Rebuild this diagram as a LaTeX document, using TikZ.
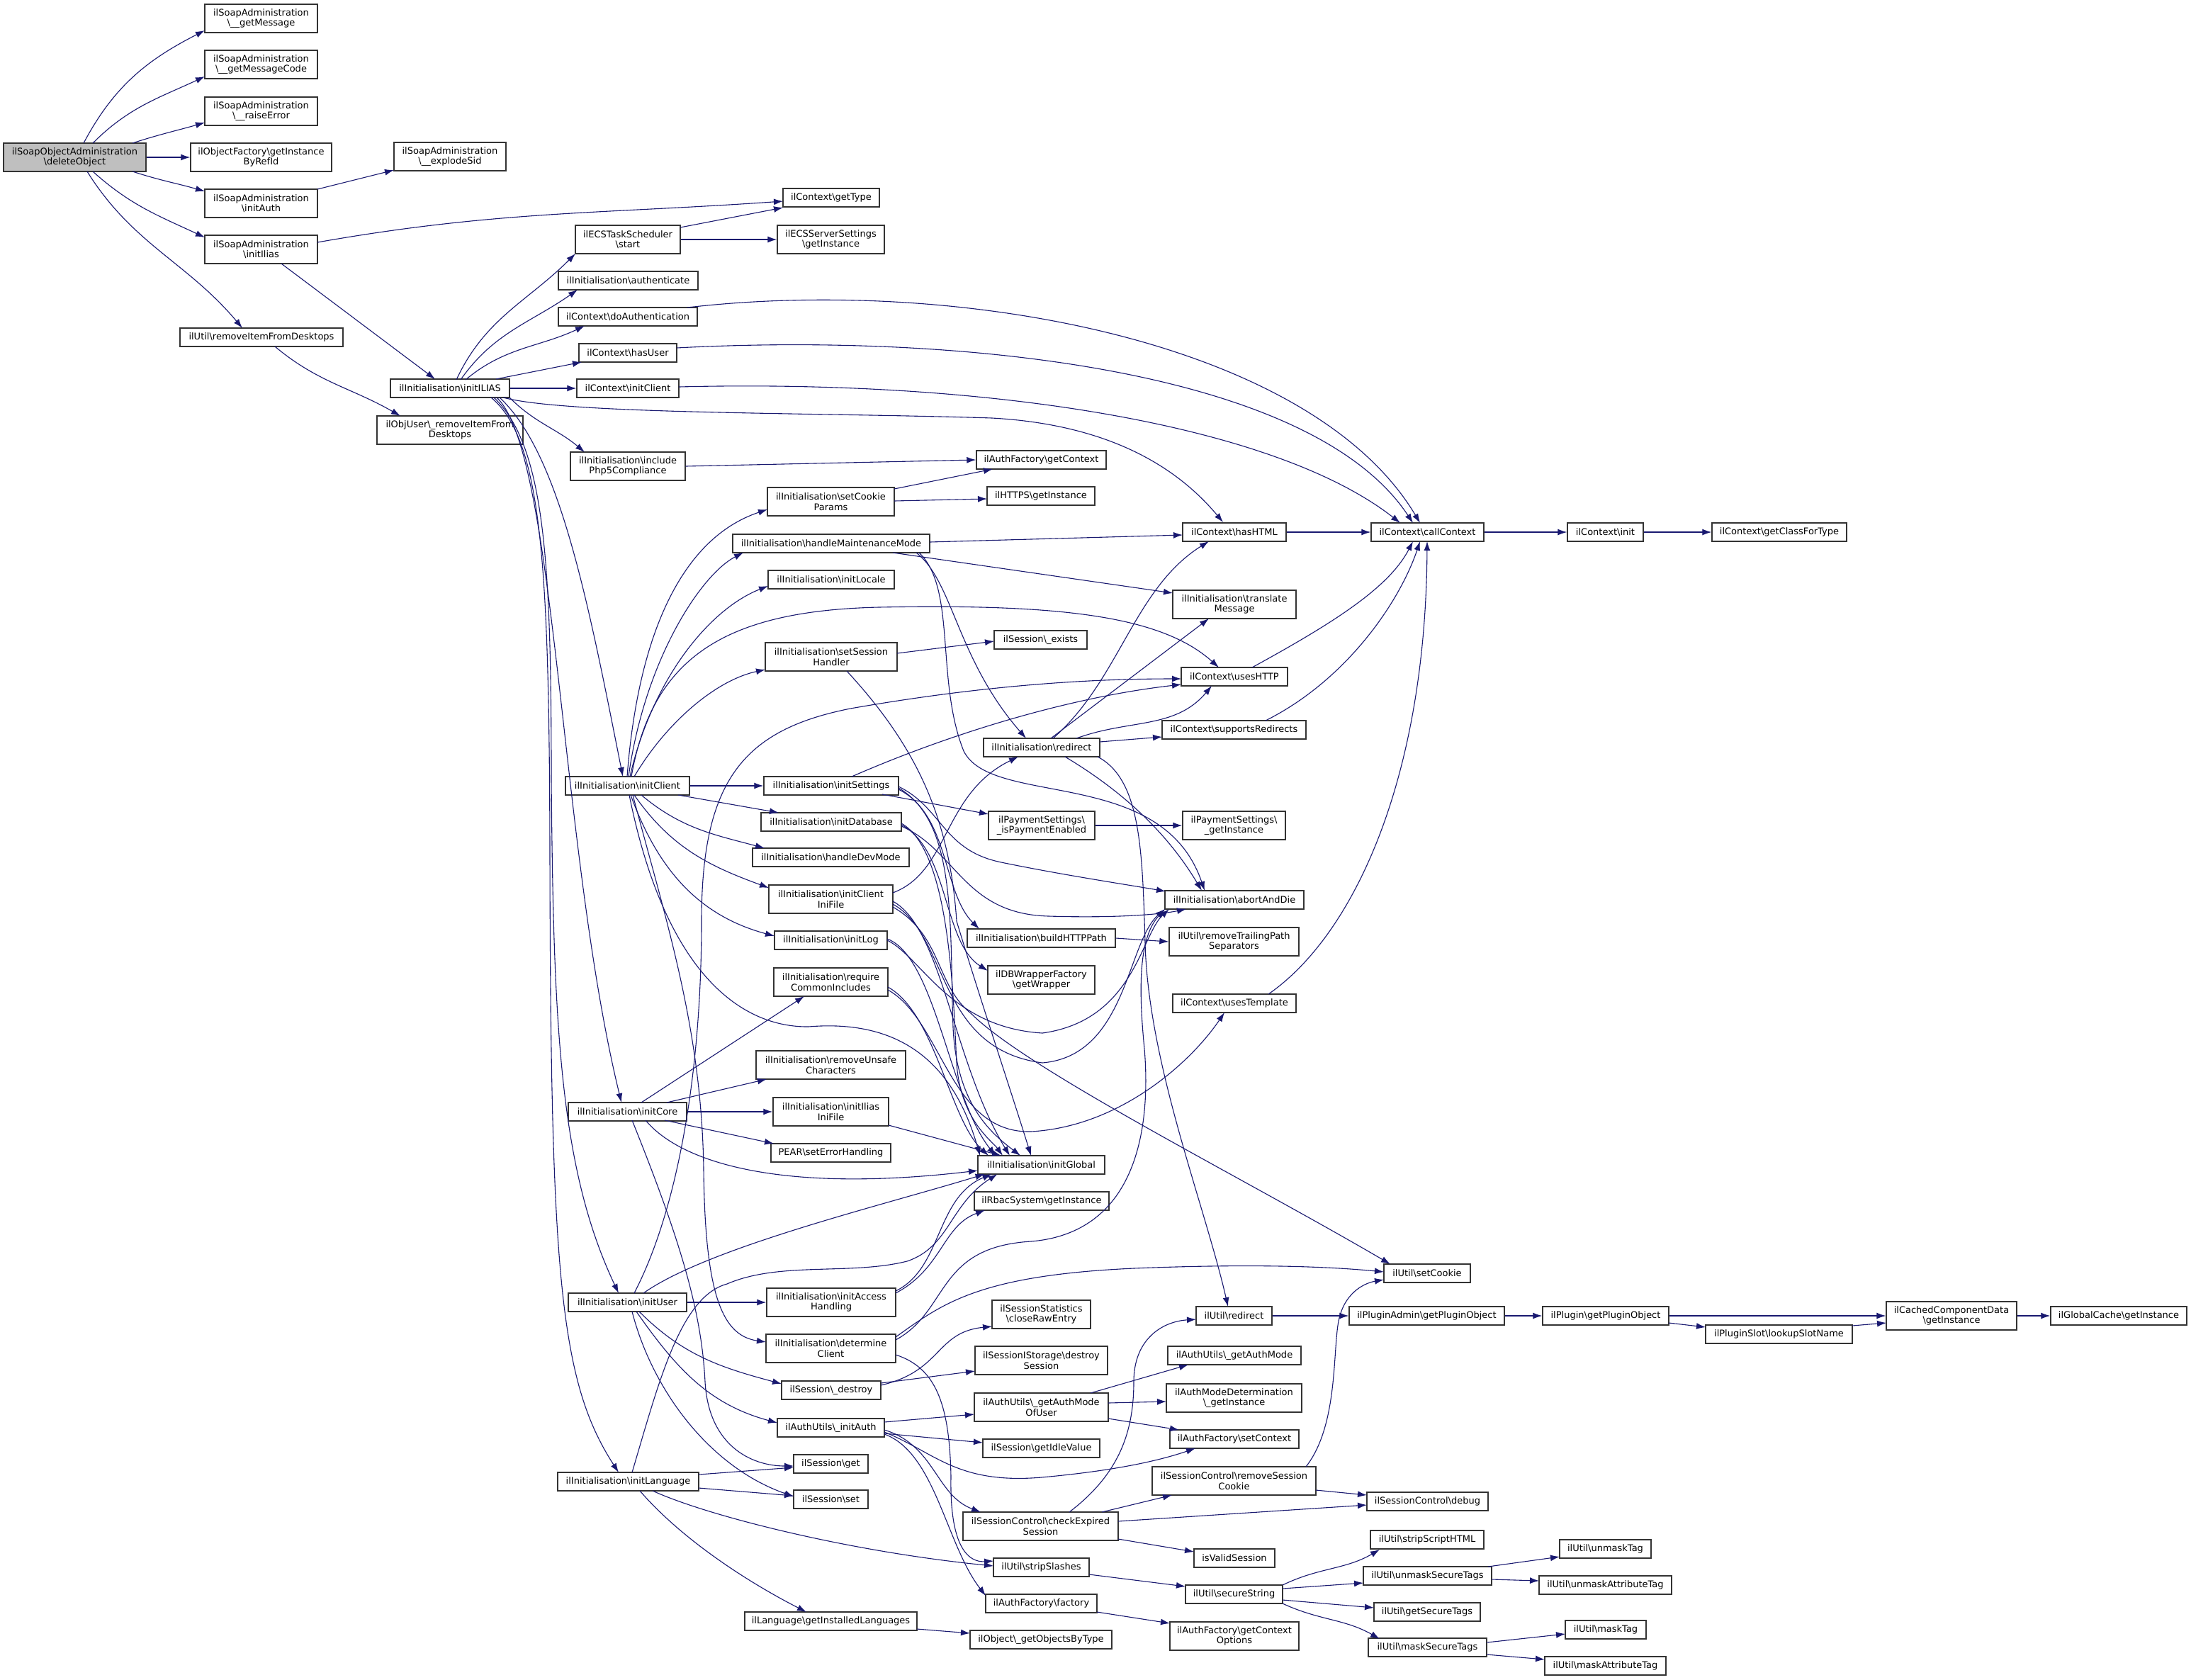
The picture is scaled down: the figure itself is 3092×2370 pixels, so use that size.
\documentclass[tikz,border=0pt]{standalone}
\usepackage{fontspec}
\setmainfont{DejaVu Sans}
\usetikzlibrary{arrows.meta}
\definecolor{edgec}{HTML}{191970}
\definecolor{rootc}{HTML}{BFBFBF}
\newcommand{\BS}{\textbackslash}
\begin{document}
\begin{tikzpicture}[x=1pt,y=-1pt,
  box/.style={draw=black!80, line width=1.4pt, fill=white, font=\fontsize{13}{14.5}\selectfont, align=center, inner xsep=4pt, inner ysep=2pt, minimum height=26pt, anchor=center},
  two/.style={minimum height=40pt},
  e/.style={draw=edgec, line width=1.1pt, -{Latex[length=13pt,width=9pt]}}]
\fill[white] (0,0) rectangle (3092,2370);
\useasboundingbox (0,0) rectangle (3092,2370);
% column 1
\node[box,two,fill=rootc,minimum width=201pt] (del) at (105.5,222) {ilSoapObjectAdministration\\\BS deleteObject};
\node[box,two,minimum width=159pt] (getMsg) at (368.5,26) {ilSoapAdministration\\\BS\_\_getMessage};
\node[box,two,minimum width=159pt] (getMsgCode) at (368.5,91) {ilSoapAdministration\\\BS\_\_getMessageCode};
\node[box,two,minimum width=159pt] (raiseErr) at (368.5,157) {ilSoapAdministration\\\BS\_\_raiseError};
\node[box,two,minimum width=199pt] (getInstRef) at (368.5,222) {ilObjectFactory\BS getInstance\\ByRefId};
\node[box,two,minimum width=158pt] (explodeSid) at (635,221) {ilSoapAdministration\\\BS\_\_explodeSid};
\node[box,two,minimum width=159pt] (soapInitAuth) at (368.5,287) {ilSoapAdministration\\\BS initAuth};
\node[box,two,minimum width=159pt] (soapInitIlias) at (368.5,352) {ilSoapAdministration\\\BS initIlias};
\node[box,minimum width=230pt] (removeItem) at (369,476) {ilUtil\BS removeItemFromDesktops};
\node[box,minimum width=168pt] (initILIAS) at (635,548) {ilInitialisation\BS initILIAS};
\node[box,two,minimum width=206pt] (objUserRemove) at (635,607) {ilObjUser\BS\_removeItemFrom\\Desktops};
\node[box,two,minimum width=148pt] (ecsStart) at (886,338) {ilECSTaskScheduler\\\BS start};
\node[box,minimum width=197pt] (authenticate) at (886.5,396) {ilInitialisation\BS authenticate};
\node[box,minimum width=196pt] (doAuth) at (886,447) {ilContext\BS doAuthentication};
\node[box,minimum width=138pt] (hasUser) at (886,498) {ilContext\BS hasUser};
\node[box,minimum width=144pt] (ctxInitClient) at (886,548) {ilContext\BS initClient};
\node[box,two,minimum width=162pt] (php5) at (886,658) {ilInitialisation\BS include\\Php5Compliance};
\node[box,minimum width=175pt] (initClient) at (885.5,1109) {ilInitialisation\BS initClient};
\node[box,minimum width=167pt] (initCore) at (885.5,1569) {ilInitialisation\BS initCore};
\node[box,minimum width=167pt] (initUser) at (885.5,1838) {ilInitialisation\BS initUser};
\node[box,minimum width=199pt] (initLanguage) at (886.5,2091) {ilInitialisation\BS initLanguage};
% column 3
\node[box,minimum width=136pt] (getType) at (1173,279) {ilContext\BS getType};
\node[box,two,minimum width=151pt] (ecsServer) at (1172.5,338) {ilECSServerSettings\\\BS getInstance};
\node[box,two,minimum width=179pt] (setCookieParams) at (1172.5,708) {ilInitialisation\BS setCookie\\Params};
\node[box,minimum width=278pt] (handleMaint) at (1173,767) {ilInitialisation\BS handleMaintenanceMode};
\node[box,minimum width=178pt] (initLocale) at (1173,818) {ilInitialisation\BS initLocale};
\node[box,two,minimum width=186pt] (setSessionHandler) at (1173,927) {ilInitialisation\BS setSession\\Handler};
\node[box,minimum width=190pt] (initSettings) at (1173,1109) {ilInitialisation\BS initSettings};
\node[box,minimum width=198pt] (initDatabase) at (1173,1160) {ilInitialisation\BS initDatabase};
\node[box,minimum width=221pt] (handleDevMode) at (1172.5,1210) {ilInitialisation\BS handleDevMode};
\node[box,two,minimum width=175pt] (initClientIniFile) at (1172.5,1269) {ilInitialisation\BS initClient\\IniFile};
\node[box,minimum width=159pt] (initLog) at (1172.5,1327) {ilInitialisation\BS initLog};
\node[box,two,minimum width=161pt] (requireCommon) at (1172.5,1386) {ilInitialisation\BS require\\CommonIncludes};
\node[box,two,minimum width=211pt] (removeUnsafe) at (1172.5,1503) {ilInitialisation\BS removeUnsafe\\Characters};
\node[box,two,minimum width=163pt] (initIliasIni) at (1172.5,1569) {ilInitialisation\BS initIlias\\IniFile};
\node[box,minimum width=169pt] (pear) at (1172.5,1627) {PEAR\BS setErrorHandling};
\node[box,two,minimum width=182pt] (initAccess) at (1173,1838) {ilInitialisation\BS initAccess\\Handling};
\node[box,two,minimum width=183pt] (determineClient) at (1172.5,1903) {ilInitialisation\BS determine\\Client};
\node[box,minimum width=140pt] (sessionDestroy) at (1173,1962) {ilSession\BS\_destroy};
\node[box,minimum width=151pt] (authInit) at (1172.5,2015) {ilAuthUtils\BS\_initAuth};
\node[box,minimum width=105pt] (sessGet) at (1172.5,2066) {ilSession\BS get};
\node[box,minimum width=105pt] (sessSet) at (1172.5,2116) {ilSession\BS set};
\node[box,minimum width=243pt] (getInstalledLang) at (1172.5,2288) {ilLanguage\BS getInstalledLanguages};
% column 4
\node[box,minimum width=183pt] (authFactGetContext) at (1469.5,649) {ilAuthFactory\BS getContext};
\node[box,minimum width=152pt] (httpsGetInstance) at (1469,700) {ilHTTPS\BS getInstance};
\node[box,minimum width=131pt] (sessExists) at (1468.5,903) {ilSession\BS\_exists};
\node[box,minimum width=164pt] (redirect) at (1470,1055) {ilInitialisation\BS redirect};
\node[box,two,minimum width=150pt] (isPayment) at (1470,1165) {ilPaymentSettings\BS\\\_isPaymentEnabled};
\node[box,minimum width=209pt] (buildHTTP) at (1469.5,1324) {ilInitialisation\BS buildHTTPPath};
\node[box,two,minimum width=151pt] (getWrapper) at (1469.5,1383) {ilDBWrapperFactory\\\BS getWrapper};
\node[box,minimum width=179pt] (initGlobal) at (1469.5,1644) {ilInitialisation\BS initGlobal};
\node[box,minimum width=190pt] (rbac) at (1470,1695) {ilRbacSystem\BS getInstance};
\node[box,two,minimum width=139pt] (closeRaw) at (1469.5,1855) {ilSessionStatistics\\\BS closeRawEntry};
\node[box,two,minimum width=187pt] (destroySession) at (1469.5,1920) {ilSessionIStorage\BS destroy\\Session};
\node[box,two,minimum width=189pt] (getAuthModeOfUser) at (1469.5,1986) {ilAuthUtils\BS\_getAuthMode\\OfUser};
\node[box,minimum width=165pt] (getIdle) at (1469.5,2044) {ilSession\BS getIdleValue};
\node[box,two,minimum width=219pt] (checkExpired) at (1468.5,2154) {ilSessionControl\BS checkExpired\\Session};
\node[box,minimum width=135pt] (stripSlashes) at (1469.5,2212) {ilUtil\BS stripSlashes};
\node[box,minimum width=157pt] (authFactory) at (1469.5,2263) {ilAuthFactory\BS factory};
\node[box,minimum width=200pt] (getObjectsByType) at (1469,2314) {ilObject\BS\_getObjectsByType};
% column 5
\node[box,minimum width=146pt] (hasHTML) at (1742,751) {ilContext\BS hasHTML};
\node[box,two,minimum width=174pt] (translate) at (1742,853) {ilInitialisation\BS translate\\Message};
\node[box,minimum width=150pt] (usesHTTP) at (1742,955) {ilContext\BS usesHTTP};
\node[box,minimum width=203pt] (supportsRedirects) at (1741.5,1030) {ilContext\BS supportsRedirects};
\node[box,two,minimum width=145pt] (paymentGetInstance) at (1741.5,1165) {ilPaymentSettings\BS\\\_getInstance};
\node[box,minimum width=196pt] (abortAndDie) at (1742,1270) {ilInitialisation\BS abortAndDie};
\node[box,two,minimum width=183pt] (removeTrailing) at (1741.5,1329) {ilUtil\BS removeTrailingPath\\Separators};
\node[box,minimum width=174pt] (usesTemplate) at (1742,1416) {ilContext\BS usesTemplate};
\node[box,minimum width=107pt] (ilUtilRedirect) at (1741.5,1857) {ilUtil\BS redirect};
\node[box,minimum width=188pt] (getAuthMode) at (1742,1913) {ilAuthUtils\BS\_getAuthMode};
\node[box,two,minimum width=191pt] (authModeDet) at (1741.5,1973) {ilAuthModeDetermination\\\BS\_getInstance};
\node[box,minimum width=182pt] (setContext) at (1742,2031) {ilAuthFactory\BS setContext};
\node[box,two,minimum width=231pt] (removeSessionCookie) at (1741.5,2090) {ilSessionControl\BS removeSession\\Cookie};
\node[box,minimum width=114pt] (isValidSession) at (1742,2199) {isValidSession};
\node[box,minimum width=137pt] (secureString) at (1741.5,2250) {ilUtil\BS secureString};
\node[box,two,minimum width=182pt] (getContextOptions) at (1742,2309) {ilAuthFactory\BS getContext\\Options};
% column 6
\node[box,minimum width=159pt] (callContext) at (2014.5,751) {ilContext\BS callContext};
\node[box,minimum width=122pt] (setCookie) at (2014,1797) {ilUtil\BS setCookie};
\node[box,minimum width=219pt] (pluginAdmin) at (2013.5,1857) {ilPluginAdmin\BS getPluginObject};
\node[box,minimum width=171pt] (debug) at (2014.5,2119) {ilSessionControl\BS debug};
\node[box,minimum width=160pt] (stripScript) at (2014,2173) {ilUtil\BS stripScriptHTML};
\node[box,minimum width=181pt] (unmaskSecure) at (2014.5,2224) {ilUtil\BS unmaskSecureTags};
\node[box,minimum width=150pt] (getSecureTags) at (2014,2275) {ilUtil\BS getSecureTags};
\node[box,minimum width=167pt] (maskSecure) at (2014.5,2325) {ilUtil\BS maskSecureTags};
% column 7+
\node[box,minimum width=107pt] (ctxInit) at (2265.5,751) {ilContext\BS init};
\node[box,minimum width=178pt] (plugin) at (2266,1857) {ilPlugin\BS getPluginObject};
\node[box,minimum width=129pt] (unmaskTag) at (2265.5,2186) {ilUtil\BS unmaskTag};
\node[box,minimum width=187pt] (unmaskAttr) at (2265.5,2237) {ilUtil\BS unmaskAttributeTag};
\node[box,minimum width=114pt] (maskTag) at (2266,2300) {ilUtil\BS maskTag};
\node[box,minimum width=171pt] (maskAttr) at (2265.5,2351) {ilUtil\BS maskAttributeTag};
\node[box,minimum width=190pt] (getClassForType) at (2511,751) {ilContext\BS getClassForType};
\node[box,minimum width=207pt] (lookupSlot) at (2510.5,1883) {ilPluginSlot\BS lookupSlotName};
\node[box,two,minimum width=184pt] (cachedComp) at (2754,1857) {ilCachedComponentData\\\BS getInstance};
\node[box,minimum width=192pt] (globalCache) at (2990,1857) {ilGlobalCache\BS getInstance};

% ---------------- edges ----------------
\draw[e] ([shift={(12.5,-20)}]del.center) to[out=62,in=207] ([shift={(-79.5,17)}]getMsg.center);
\draw[e] ([shift={(25.5,-20)}]del.center) to[out=45,in=205] ([shift={(-79.5,17)}]getMsgCode.center);
\draw[e] ([shift={(81.5,-20)}]del.center) to[out=18,in=196] ([shift={(-79.5,16)}]raiseErr.center);
\draw[e] (del.east) -- (getInstRef.west);
\draw[e] ([shift={(81.5,20)}]del.center) to[out=-18,in=164] ([shift={(-79.5,-17)}]soapInitAuth.center);
\draw[e] ([shift={(25.5,20)}]del.center) to[out=-42,in=155] ([shift={(-79.5,-17)}]soapInitIlias.center);
\draw[e] ([shift={(17.5,20)}]del.center) to[out=-58,in=130] ([shift={(-27,-13)}]removeItem.center);
\draw[e] ([shift={(79.5,-20)}]soapInitAuth.center) -- ([shift={(-79,19)}]explodeSid.center);
\draw[e] ([shift={(79.5,-10)}]soapInitIlias.center) to[out=10,in=184] ([shift={(-68,5)}]getType.center);
\draw[e] ([shift={(28.5,20)}]soapInitIlias.center) -- ([shift={(-21,-13)}]initILIAS.center);
\draw[e] ([shift={(19,13)}]removeItem.center) to[out=-40,in=150] ([shift={(-70,-20)}]objUserRemove.center);
% initILIAS
\draw[e] ([shift={(9,-12)}]initILIAS.center) to[out=65,in=225] ([shift={(-74,20)}]ecsStart.center);
\draw[e] ([shift={(15,-12)}]initILIAS.center) to[out=55,in=215] ([shift={(-71.5,13)}]authenticate.center);
\draw[e] ([shift={(22,-12)}]initILIAS.center) to[out=40,in=205] ([shift={(-61,13)}]doAuth.center);
\draw[e] ([shift={(65,-13)}]initILIAS.center) -- ([shift={(-65,13)}]hasUser.center);
\draw[e] (initILIAS.east) -- (ctxInitClient.west);
\draw[e] ([shift={(75,13)}]initILIAS.center) .. controls (800,585) and (1150,582) .. (1400,590) .. controls (1580,600) and (1670,670) .. ([shift={(-16,-14)}]hasHTML.center);
\draw[e] ([shift={(84,13)}]initILIAS.center) to[out=-45,in=140] ([shift={(-61,-20)}]php5.center);
\draw[e] ([shift={(70,13)}]initILIAS.center) .. controls (790,640) and (830,850) .. ([shift={(-6.5,-13)}]initClient.center);
\draw[e] ([shift={(66,13)}]initILIAS.center) .. controls (785,640) and (790,1200) .. ([shift={(-8.5,-13)}]initCore.center);
\draw[e] ([shift={(62,13)}]initILIAS.center) .. controls (770,630) and (778,800) .. (778,1100) .. controls (781,1450) and (790,1650) .. ([shift={(-12.5,-13)}]initUser.center);
\draw[e] ([shift={(58,13)}]initILIAS.center) .. controls (765,620) and (775,800) .. (776,1200) .. controls (777,1800) and (790,1950) .. ([shift={(-13.5,-13)}]initLanguage.center);
% ilContext group
\draw[e] ([shift={(74,-17)}]ecsStart.center) -- ([shift={(-68,14)}]getType.center);
\draw[e] (ecsStart.east) -- (ecsServer.west);
\draw[e] ([shift={(84,-13)}]doAuth.center) .. controls (1350,390) and (1850,480) .. ([shift={(-10.5,-13)}]callContext.center);
\draw[e] ([shift={(69,-7)}]hasUser.center) .. controls (1350,470) and (1850,520) .. ([shift={(-20.5,-13)}]callContext.center);
\draw[e] ([shift={(72,-2)}]ctxInitClient.center) .. controls (1400,535) and (1800,600) .. ([shift={(-38.5,-13)}]callContext.center);
\draw[e] (php5.east) -- (authFactGetContext.west);
\draw[e] ([shift={(89.5,-18)}]setCookieParams.center) -- ([shift={(-68.5,13)}]authFactGetContext.center);
\draw[e] ([shift={(89.5,-1)}]setCookieParams.center) -- ([shift={(-76,4)}]httpsGetInstance.center);
\draw[e] ([shift={(139,-2)}]handleMaint.center) -- ([shift={(-73,4)}]hasHTML.center);
\draw[e] ([shift={(87,13)}]handleMaint.center) -- ([shift={(-87,-16)}]translate.center);
\draw[e] ([shift={(120,13)}]handleMaint.center) .. controls (1345,820) and (1350,930) .. ([shift={(-22,-13)}]redirect.center);
\draw[e] ([shift={(124,13)}]handleMaint.center) .. controls (1350,830) and (1320,960) .. (1360,1060) .. controls (1400,1140) and (1640,1080) .. ([shift={(-42,-13)}]abortAndDie.center);
\draw[e] (hasHTML.east) -- (callContext.west);
\draw[e] (callContext.east) -- (ctxInit.west);
\draw[e] (ctxInit.east) -- (getClassForType.west);
\draw[e] ([shift={(25,-13)}]usesHTTP.center) .. controls (1880,880) and (1960,830) .. ([shift={(-20.5,13)}]callContext.center);
\draw[e] ([shift={(44.5,-13)}]supportsRedirects.center) .. controls (1900,960) and (1975,850) .. ([shift={(-10.5,13)}]callContext.center);
\draw[e] ([shift={(48,-13)}]usesTemplate.center) .. controls (1910,1320) and (2012,1100) .. ([shift={(-0.5,13)}]callContext.center);
% redirect
\draw[e] ([shift={(16,-13)}]redirect.center) .. controls (1580,960) and (1600,830) .. ([shift={(-36,13)}]hasHTML.center);
\draw[e] ([shift={(13,-13)}]redirect.center) -- ([shift={(-36,20)}]translate.center);
\draw[e] ([shift={(49,-13)}]redirect.center) to[out=20,in=-130] ([shift={(-32,13)}]usesHTTP.center);
\draw[e] ([shift={(82,-8)}]redirect.center) -- ([shift={(-101.5,10)}]supportsRedirects.center);
\draw[e] ([shift={(33,13)}]redirect.center) .. controls (1590,1120) and (1650,1180) .. ([shift={(-46,-13)}]abortAndDie.center);
\draw[e] ([shift={(79,13)}]redirect.center) .. controls (1610,1100) and (1612,1200) .. (1616,1330) .. controls (1620,1500) and (1700,1700) .. ([shift={(-8.5,-13)}]ilUtilRedirect.center);
\draw[e] ([shift={(93,-5)}]setSessionHandler.center) -- ([shift={(-65.5,2)}]sessExists.center);
\draw[e] ([shift={(22,20)}]setSessionHandler.center) .. controls (1290,1050) and (1340,1150) .. (1350,1300) .. controls (1380,1400) and (1430,1550) .. ([shift={(-14.5,-13)}]initGlobal.center);
% initClient
\draw[e] ([shift={(-0.5,-13)}]initClient.center) .. controls (900,900) and (960,760) .. ([shift={(-89.5,11)}]setCookieParams.center);
\draw[e] ([shift={(1.5,-13)}]initClient.center) .. controls (910,930) and (990,810) .. ([shift={(-124,13)}]handleMaint.center);
\draw[e] ([shift={(3.5,-13)}]initClient.center) .. controls (920,960) and (1000,860) .. ([shift={(-89,9)}]initLocale.center);
\draw[e] ([shift={(5.5,-13)}]initClient.center) .. controls (920,930) and (1020,862) .. (1240,857) .. controls (1500,852) and (1640,870) .. ([shift={(-22,-13)}]usesHTTP.center);
\draw[e] ([shift={(9.5,-13)}]initClient.center) .. controls (940,1020) and (1010,960) .. ([shift={(-93,18)}]setSessionHandler.center);
\draw[e] (initClient.east) -- (initSettings.west);
\draw[e] ([shift={(71.5,13)}]initClient.center) -- ([shift={(-74,-13)}]initDatabase.center);
\draw[e] ([shift={(19.5,13)}]initClient.center) to[out=-40,in=165] ([shift={(-93.5,-13)}]handleDevMode.center);
\draw[e] ([shift={(9.5,13)}]initClient.center) to[out=-55,in=160] ([shift={(-87.5,-16)}]initClientIniFile.center);
\draw[e] ([shift={(4.5,13)}]initClient.center) to[out=-70,in=165] ([shift={(-79.5,-6)}]initLog.center);
\draw[e] ([shift={(2.5,13)}]initClient.center) .. controls (940,1380) and (1050,1450) .. (1141,1449) .. controls (1250,1440) and (1340,1480) .. ([shift={(-86.5,-13)}]initGlobal.center);
\draw[e] ([shift={(7.5,13)}]initClient.center) .. controls (940,1300) and (990,1450) .. (993,1650) .. controls (995,1830) and (1020,1885) .. ([shift={(-91.5,-9)}]determineClient.center);
% initSettings
\draw[e] ([shift={(29,-13)}]initSettings.center) .. controls (1330,1040) and (1500,985) .. ([shift={(-75,11)}]usesHTTP.center);
\draw[e] ([shift={(72,12)}]initSettings.center) -- ([shift={(-75,-16)}]isPayment.center);
\draw[e] ([shift={(95,1)}]initSettings.center) .. controls (1330,1140) and (1330,1200) .. (1413,1217) .. controls (1500,1235) and (1600,1250) .. ([shift={(-97,-12)}]abortAndDie.center);
\draw[e] ([shift={(95,5)}]initSettings.center) .. controls (1340,1150) and (1330,1260) .. ([shift={(-87.5,-13)}]buildHTTP.center);
\draw[e] ([shift={(95,3)}]initSettings.center) .. controls (1350,1160) and (1340,1300) .. (1345,1450) .. controls (1350,1560) and (1400,1600) .. ([shift={(-29.5,-13)}]initGlobal.center);
\draw[e] (isPayment.east) -- (paymentGetInstance.west);
% initDatabase
\draw[e] ([shift={(99,4)}]initDatabase.center) .. controls (1340,1200) and (1330,1330) .. ([shift={(-75.5,-13)}]getWrapper.center);
\draw[e] ([shift={(99,6)}]initDatabase.center) .. controls (1350,1200) and (1360,1290) .. (1480,1293) .. controls (1580,1296) and (1640,1290) .. ([shift={(-68,13)}]abortAndDie.center);
\draw[e] ([shift={(99,2)}]initDatabase.center) .. controls (1340,1200) and (1345,1400) .. (1350,1500) .. controls (1355,1580) and (1400,1610) .. ([shift={(-54.5,-13)}]initGlobal.center);
% initClientIniFile
\draw[e] ([shift={(87.5,-9)}]initClientIniFile.center) .. controls (1340,1230) and (1330,1120) .. ([shift={(-33,13)}]redirect.center);
\draw[e] ([shift={(87.5,7)}]initClientIniFile.center) .. controls (1340,1320) and (1320,1480) .. (1471,1500) .. controls (1590,1490) and (1590,1330) .. ([shift={(-98,13)}]abortAndDie.center);
\draw[e] ([shift={(87.5,11)}]initClientIniFile.center) .. controls (1330,1320) and (1320,1390) .. (1370,1430) .. controls (1450,1510) and (1750,1660) .. ([shift={(-52,-13)}]setCookie.center);
\draw[e] ([shift={(87.5,3)}]initClientIniFile.center) .. controls (1330,1310) and (1345,1500) .. ([shift={(-44.5,-13)}]initGlobal.center);
\draw[e] (buildHTTP.east) -- (removeTrailing.west);
% initLog / requireCommonIncludes
\draw[e] ([shift={(79.5,0)}]initLog.center) .. controls (1300,1350) and (1340,1450) .. (1471,1458) .. controls (1600,1440) and (1610,1320) .. ([shift={(-92,13)}]abortAndDie.center);
\draw[e] ([shift={(79.5,-2)}]initLog.center) .. controls (1320,1350) and (1340,1550) .. ([shift={(-64.5,-13)}]initGlobal.center);
\draw[e] ([shift={(80.5,11)}]requireCommon.center) .. controls (1330,1440) and (1340,1600) .. (1455,1597) .. controls (1580,1590) and (1680,1500) .. ([shift={(-14,13)}]usesTemplate.center);
\draw[e] ([shift={(80.5,7)}]requireCommon.center) .. controls (1320,1430) and (1340,1580) .. ([shift={(-74.5,-13)}]initGlobal.center);
% initCore
\draw[e] ([shift={(19.5,-13)}]initCore.center) -- ([shift={(-37.5,20)}]requireCommon.center);
\draw[e] ([shift={(55.5,-13)}]initCore.center) -- ([shift={(-90.5,20)}]removeUnsafe.center);
\draw[e] (initCore.east) -- (initIliasIni.west);
\draw[e] ([shift={(52.5,12)}]initCore.center) -- ([shift={(-80.5,-13)}]pear.center);
\draw[e] ([shift={(25.5,12)}]initCore.center) .. controls (960,1640) and (1100,1685) .. ([shift={(-89.5,8)}]initGlobal.center);
\draw[e] ([shift={(6.5,12)}]initCore.center) .. controls (960,1750) and (990,1850) .. (995,1950) .. controls (1000,2040) and (1060,2069) .. ([shift={(-52.5,3)}]sessGet.center);
\draw[e] ([shift={(81.5,19)}]initIliasIni.center) -- ([shift={(-56.5,-13)}]initGlobal.center);
% initUser
\draw[e] ([shift={(9.5,-13)}]initUser.center) .. controls (960,1700) and (990,1500) .. (990,1300) .. controls (990,1100) and (1050,1030) .. (1200,1000) .. controls (1400,965) and (1550,958) .. ([shift={(-75,3)}]usesHTTP.center);
\draw[e] ([shift={(22.5,-13)}]initUser.center) .. controls (1000,1760) and (1250,1700) .. ([shift={(-80,13)}]initGlobal.center);
\draw[e] (initUser.east) -- (initAccess.west);
\draw[e] ([shift={(16.5,13)}]initUser.center) to[out=-45,in=165] ([shift={(-70,-9)}]sessionDestroy.center);
\draw[e] ([shift={(12.5,13)}]initUser.center) to[out=-55,in=165] ([shift={(-75.5,-7)}]authInit.center);
\draw[e] ([shift={(6.5,13)}]initUser.center) .. controls (920,1960) and (1000,2070) .. ([shift={(-52.5,-4)}]sessSet.center);
\draw[e] ([shift={(91,-16)}]initAccess.center) .. controls (1330,1790) and (1320,1690) .. ([shift={(-70,13)}]initGlobal.center);
\draw[e] ([shift={(91,-13)}]initAccess.center) .. controls (1330,1790) and (1330,1730) .. ([shift={(-80,13)}]rbac.center);
% determineClient
\draw[e] ([shift={(91.5,-16)}]determineClient.center) .. controls (1330,1840) and (1380,1800) .. (1600,1790) .. controls (1800,1782) and (1900,1790) .. ([shift={(-61,-2)}]setCookie.center);
\draw[e] ([shift={(91.5,-12)}]determineClient.center) .. controls (1340,1850) and (1320,1760) .. (1455,1752) .. controls (1600,1740) and (1625,1600) .. (1615,1480) .. controls (1605,1380) and (1610,1320) .. ([shift={(-98,13)}]abortAndDie.center);
\draw[e] ([shift={(91.5,9)}]determineClient.center) .. controls (1320,1930) and (1340,1980) .. (1342,2084) .. controls (1340,2190) and (1370,2205) .. ([shift={(-67.5,-9)}]stripSlashes.center);
% session / auth
\draw[e] ([shift={(70,-7)}]sessionDestroy.center) .. controls (1330,1935) and (1320,1880) .. ([shift={(-69.5,17)}]closeRaw.center);
\draw[e] ([shift={(70,-10)}]sessionDestroy.center) -- ([shift={(-93.5,15)}]destroySession.center);
\draw[e] ([shift={(75.5,-8)}]authInit.center) -- ([shift={(-94.5,10)}]getAuthModeOfUser.center);
\draw[e] ([shift={(75.5,8)}]authInit.center) -- ([shift={(-82.5,-8)}]getIdle.center);
\draw[e] ([shift={(75.5,6)}]authInit.center) .. controls (1320,2050) and (1350,2095) .. (1470,2085) .. controls (1580,2075) and (1640,2060) .. ([shift={(-55,13)}]setContext.center);
\draw[e] ([shift={(75.5,3)}]authInit.center) .. controls (1320,2040) and (1320,2110) .. ([shift={(-84.5,-20)}]checkExpired.center);
\draw[e] ([shift={(75.5,9)}]authInit.center) .. controls (1320,2050) and (1335,2180) .. ([shift={(-78.5,-11)}]authFactory.center);
% initLanguage
\draw[e] ([shift={(34.5,13)}]initLanguage.center) .. controls (1000,2140) and (1200,2190) .. ([shift={(-67.5,-2)}]stripSlashes.center);
\draw[e] ([shift={(16.5,13)}]initLanguage.center) .. controls (960,2170) and (1050,2230) .. ([shift={(-34.5,-13)}]getInstalledLang.center);
\draw[e] ([shift={(99.5,-10)}]initLanguage.center) -- ([shift={(-52.5,5)}]sessGet.center);
\draw[e] ([shift={(99.5,9)}]initLanguage.center) -- ([shift={(-52.5,-5)}]sessSet.center);
\draw[e] ([shift={(5.5,-13)}]initLanguage.center) .. controls (930,1950) and (960,1830) .. (1026,1812) .. controls (1100,1780) and (1200,1800) .. (1280,1780) .. controls (1340,1760) and (1340,1700) .. ([shift={(-62,13)}]initGlobal.center);
% right part
\draw[e] ([shift={(69.5,-20)}]getAuthModeOfUser.center) -- ([shift={(-65,13)}]getAuthMode.center);
\draw[e] ([shift={(94.5,-6)}]getAuthModeOfUser.center) -- ([shift={(-95.5,5)}]authModeDet.center);
\draw[e] ([shift={(94.5,16)}]getAuthModeOfUser.center) -- ([shift={(-78,-13)}]setContext.center);
\draw[e] ([shift={(40.5,-20)}]checkExpired.center) .. controls (1580,2080) and (1600,2020) .. (1600,1950) .. controls (1600,1890) and (1640,1865) .. ([shift={(-53.5,5)}]ilUtilRedirect.center);
\draw[e] ([shift={(86.5,-20)}]checkExpired.center) -- ([shift={(-87.5,20)}]removeSessionCookie.center);
\draw[e] ([shift={(109.5,-7)}]checkExpired.center) -- ([shift={(-85.5,5)}]debug.center);
\draw[e] ([shift={(109.5,18)}]checkExpired.center) -- ([shift={(-57,-9)}]isValidSession.center);
\draw[e] ([shift={(101.5,-20)}]removeSessionCookie.center) .. controls (1890,2010) and (1880,1900) .. (1890,1860) .. controls (1900,1820) and (1930,1810) .. ([shift={(-61,9)}]setCookie.center);
\draw[e] ([shift={(115.5,13)}]removeSessionCookie.center) -- ([shift={(-85.5,-9)}]debug.center);
\draw[e] ([shift={(67.5,10)}]stripSlashes.center) -- ([shift={(-68.5,-11)}]secureString.center);
\draw[e] ([shift={(78.5,12)}]authFactory.center) -- ([shift={(-91,-18)}]getContextOptions.center);
\draw[e] ([shift={(121.5,11)}]getInstalledLang.center) -- ([shift={(-100,-9)}]getObjectsByType.center);
\draw[e] (ilUtilRedirect.east) -- (pluginAdmin.west);
\draw[e] (pluginAdmin.east) -- (plugin.west);
\draw[e] (plugin.east) -- (cachedComp.west);
\draw[e] ([shift={(89,10)}]plugin.center) -- ([shift={(-103.5,-10)}]lookupSlot.center);
\draw[e] ([shift={(103.5,-12)}]lookupSlot.center) -- ([shift={(-92,10)}]cachedComp.center);
\draw[e] (cachedComp.east) -- (globalCache.west);
\draw[e] ([shift={(68.5,-13)}]secureString.center) to[out=26,in=210] ([shift={(-67,14)}]stripScript.center);
\draw[e] ([shift={(68.5,-8)}]secureString.center) -- ([shift={(-90.5,10)}]unmaskSecure.center);
\draw[e] ([shift={(68.5,8)}]secureString.center) -- ([shift={(-75,-6)}]getSecureTags.center);
\draw[e] ([shift={(68.5,13)}]secureString.center) to[out=-25,in=150] ([shift={(-67.5,-12)}]maskSecure.center);
\draw[e] ([shift={(85.5,-13)}]unmaskSecure.center) -- ([shift={(-64.5,11)}]unmaskTag.center);
\draw[e] ([shift={(90.5,5)}]unmaskSecure.center) -- ([shift={(-93.5,-6)}]unmaskAttr.center);
\draw[e] ([shift={(83.5,-7)}]maskSecure.center) -- ([shift={(-57,6)}]maskTag.center);
\draw[e] ([shift={(83.5,10)}]maskSecure.center) -- ([shift={(-85.5,-9)}]maskAttr.center);
\end{tikzpicture}
\end{document}
